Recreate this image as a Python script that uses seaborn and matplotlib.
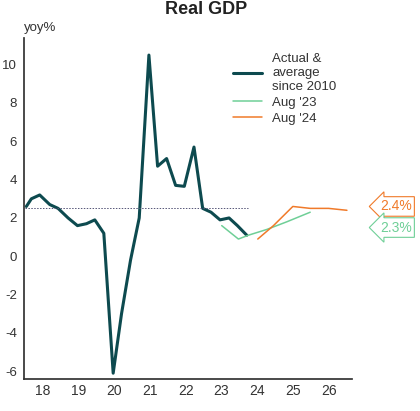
import matplotlib
matplotlib.use("Agg")
import matplotlib.pyplot as plt
import seaborn as sns
import pandas as pd

sns.set_theme(style="white")
plt.rcParams['font.family'] = ['Liberation Sans', 'DejaVu Sans']
plt.rcParams['axes.unicode_minus'] = False

px = [80,95,120,150,175,205,233,260,285,312,340,365,392,418,447,473,500,527,553,582,608,633,660,687,712,740]
actual_y = [2.6,3.0,3.2,2.7,2.5,2.0,1.6,1.7,1.9,1.2,-6.1,-3.0,-0.2,2.0,10.5,4.7,5.1,3.7,3.65,5.7,2.5,2.3,1.9,2.0,1.6,1.1]
actual_x = [2018 + (p - 76) / 107 for p in px]
a23_x = [2018 + (p - 76) / 107 for p in [665,715,745,800,860,930]]
a23_y = [1.6,0.9,1.1,1.4,1.8,2.3]
a24_x = [2018 + (p - 76) / 107 for p in [773,820,878,930,985,1040]]
a24_y = [0.9,1.6,2.6,2.5,2.5,2.4]
avg = 2.5
years = list(range(2018, 2028))
year_labels = ["18","19","20","21","22","23","24","25","26"]

dark = "#0d4a4f"; green = "#6fcf97"; orange = "#f07a2a"

fig = plt.figure(figsize=(4.2, 4.11), dpi=100)
ax = fig.add_axes([0.057, 0.078, 0.781, 0.83])
sns.lineplot(x=actual_x, y=actual_y, ax=ax, color=dark, lw=2.2, label="Actual &\naverage\nsince 2010")
sns.lineplot(x=a23_x, y=a23_y, ax=ax, color=green, lw=1.1, label="Aug '23")
sns.lineplot(x=a24_x, y=a24_y, ax=ax, color=orange, lw=1.1, label="Aug '24")
ax.plot([2018, a23_x[2]], [avg, avg], ls=(0, (1.5, 1.5)), color="#557", lw=0.7)

ax.set_xlim(2017.97, 2027.15)
ax.set_ylim(-6.4, 11.4)
ax.set_yticks([-6,-4,-2,0,2,4,6,8,10])
ax.set_xticks(years)
ax.set_xticklabels([])
ax.set_xticks([y + 0.5 for y in years[:-1]], minor=True)
ax.set_xticklabels(year_labels, minor=True)
ax.tick_params(axis='x', which='major', direction='out', length=6, color='#333', width=1)
ax.tick_params(axis='x', which='minor', length=0, labelsize=10, colors='#333')
ax.tick_params(axis='y', direction='out', length=4, labelsize=9.5, colors='#333', pad=1)
for s in ["top", "right"]:
    ax.spines[s].set_visible(False)
for s in ["left", "bottom"]:
    ax.spines[s].set_color("#333")
ax.set_xlabel(""); ax.set_ylabel("")
fig.text(0.057, 0.925, "yoy%", fontsize=9.5, color="#333")
fig.text(0.49, 0.978, "Real GDP", fontsize=13, fontweight="bold", ha="center", va="center", color="#222")
leg = ax.legend(loc="upper left", bbox_to_anchor=(0.6, 0.99), frameon=False, fontsize=9.5,
                handlelength=2.2, labelspacing=0.3, labelcolor="#333")

ax.annotate("2.4%", xy=(1.005, 2.4), xycoords=("axes fraction", "data"), xytext=(1.085, 2.6),
            textcoords=("axes fraction", "data"), fontsize=10, color=orange, va="center",
            bbox=dict(boxstyle="larrow,pad=0.2", fc="white", ec=orange, lw=0.8), annotation_clip=False)
ax.annotate("2.3%", xy=(1.005, 2.0), xycoords=("axes fraction", "data"), xytext=(1.085, 1.5),
            textcoords=("axes fraction", "data"), fontsize=10, color=green, va="center",
            bbox=dict(boxstyle="larrow,pad=0.2", fc="white", ec=green, lw=0.8), annotation_clip=False)

fig.savefig("out.png", dpi=100)
